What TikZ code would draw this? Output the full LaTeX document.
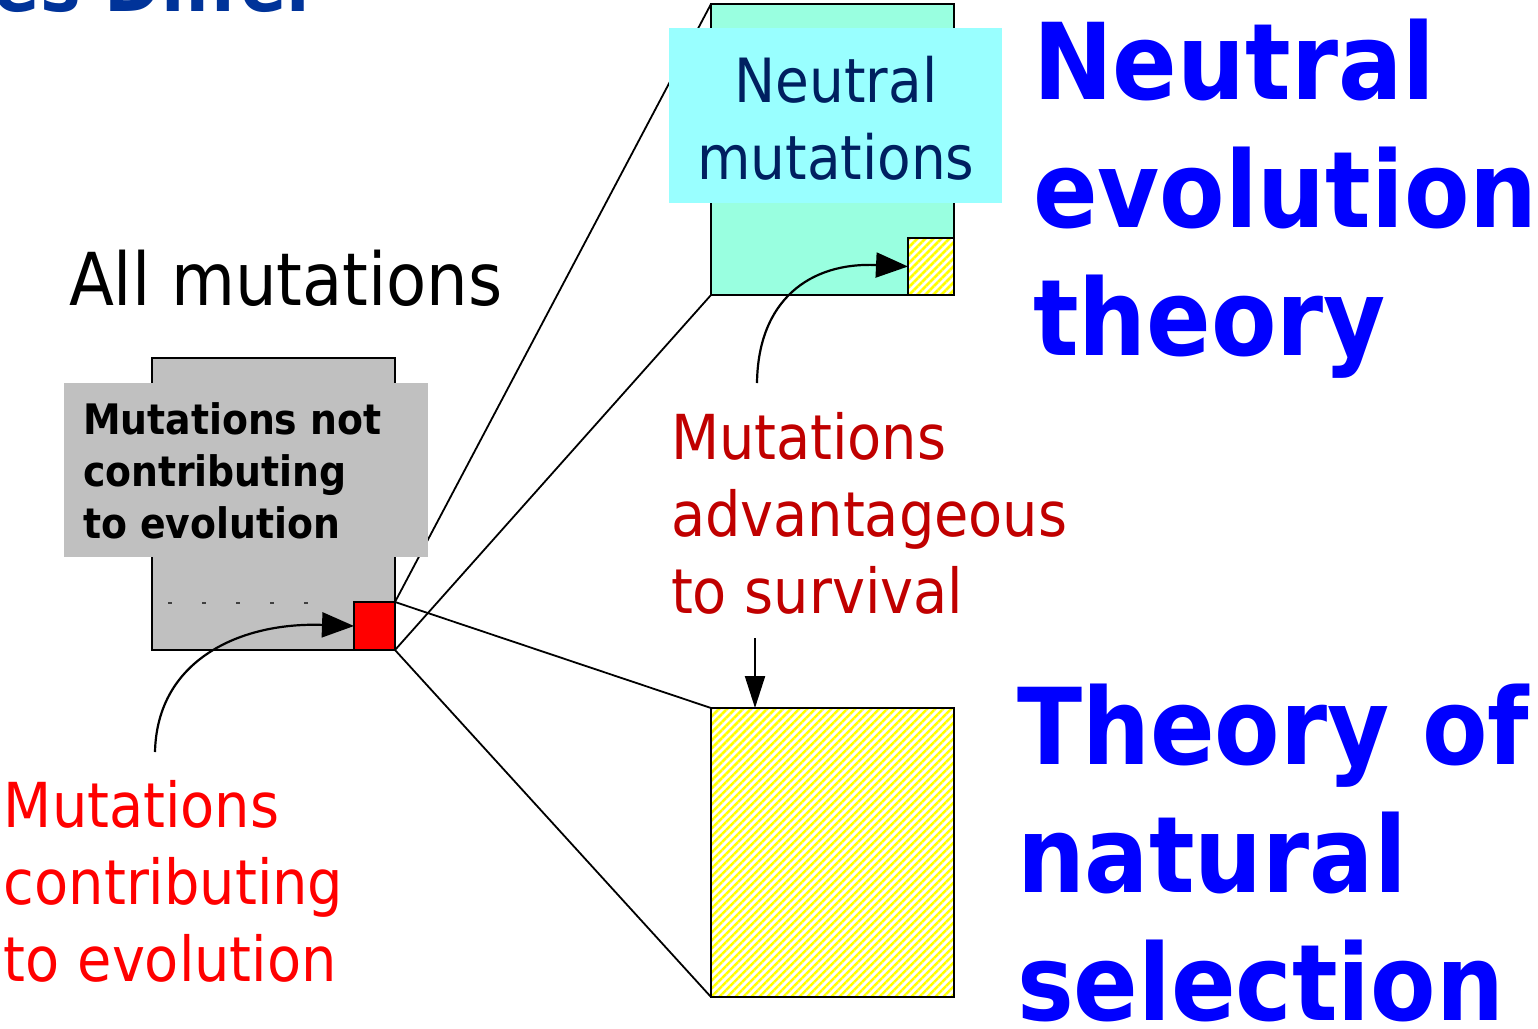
\documentclass[tikz,border=0pt]{standalone}
\usepackage{fontspec}
\setmainfont{DejaVu Sans Condensed}
\usetikzlibrary{arrows.meta,patterns.meta}

\definecolor{boxgray}{RGB}{192,192,192}
\definecolor{neutralcyan}{RGB}{153,255,224}
\definecolor{labelcyan}{RGB}{153,255,255}
\definecolor{navytext}{RGB}{0,32,96}
\definecolor{survivalred}{RGB}{192,0,0}
\definecolor{titleblue}{RGB}{0,51,153}

\begin{document}
\begin{tikzpicture}[x=1pt,y=-1pt,
    every node/.style={inner sep=0pt, outer sep=0pt},
    bigbox/.style={draw, line width=2.5pt, anchor=north west},
    hatched/.style={bigbox, preaction={fill=white}, pattern={Lines[angle=45,distance=5.657pt,line width=2.5pt]}, pattern color=yellow},
    labelbox/.style={anchor=north west},
    txt/.style={anchor=base west, align=left},
    zoomline/.style={line width=1.8pt},
    pointerarrow/.style={line width=2.2pt, -{Triangle[length=32pt,width=25pt]}}]
    \useasboundingbox (0,0) rectangle (1538,1028);
    \clip (0,0) rectangle (1538,1028);

    % heading cut off at the top
    \node[txt, titleblue, font=\bfseries\fontsize{76}{90}\selectfont] (heading) at (-6,11) {es Differ};

    % boxes
    \node[bigbox, fill=boxgray, minimum width=243pt, minimum height=292pt] (all) at (152,358) {};
    \node[bigbox, fill=red, minimum width=41pt, minimum height=48pt] (contrib) at (354,602) {};
    \node[bigbox, fill=neutralcyan, minimum width=243pt, minimum height=291pt] (neutral) at (711,4) {};
    \node[hatched, minimum width=46pt, minimum height=57pt] (advsmall) at (908,238) {};
    \node[hatched, minimum width=243pt, minimum height=289pt] (selected) at (711,708) {};
    \draw[darkgray, line width=1.5pt, dash pattern=on 4pt off 30pt] (168,603) -- (330,603);

    % zoom lines from the red square
    \draw[zoomline] (contrib.north east) -- (neutral.north west);
    \draw[zoomline] (contrib.south east) -- (neutral.south west);
    \draw[zoomline] (contrib.north east) -- (selected.north west);
    \draw[zoomline] (contrib.south east) -- (selected.south west);

    % labels on top of the boxes (base = last line)
    \node[labelbox, fill=boxgray, minimum width=364pt, minimum height=174pt] (notbox) at (64,383) {};
    \node[txt, font=\bfseries\fontsize{42}{52}\selectfont] (nottext) at (83,538) {Mutations not\\contributing\\to evolution};
    \node[labelbox, fill=labelcyan, minimum width=333pt, minimum height=175pt] (neutralbox) at (669,28) {};
    \node[anchor=base, align=center, navytext, font=\fontsize{61}{77}\selectfont] (neutraltext) at (836,179) {Neutral\\mutations};

    \node[txt, font=\fontsize{73}{86}\selectfont] (allmut) at (69,305) {All mutations};
    \node[txt, red, font=\fontsize{62}{77}\selectfont] (contribtext) at (4,981) {Mutations\\contributing\\to evolution};
    \node[txt, survivalred, font=\fontsize{62}{77}\selectfont] (advtext) at (671,613) {Mutations\\advantageous\\to survival};

    \node[txt, blue, font=\bfseries\fontsize{106}{128}\selectfont] (neutraltitle) at (1033,355) {Neutral\\evolution\\theory};
    \node[txt, blue, font=\bfseries\fontsize{106}{128}\selectfont] (selectiontitle) at (1017,1020) {Theory of\\natural\\selection};

    % arrows
    \coordinate (tailcontrib) at (155,752);
    \draw[pointerarrow] (tailcontrib) .. controls (157,660) and (240,622) .. (contrib.west);
    \coordinate (tailadv) at (757,383);
    \draw[pointerarrow] (tailadv) .. controls (758,300) and (810,262) .. (advsmall.west);
    \coordinate (tailsel) at (755,638);
    \draw[pointerarrow, -{Triangle[length=32pt,width=20pt]}] (tailsel) -- (tailsel |- selected.north);
\end{tikzpicture}
\end{document}
